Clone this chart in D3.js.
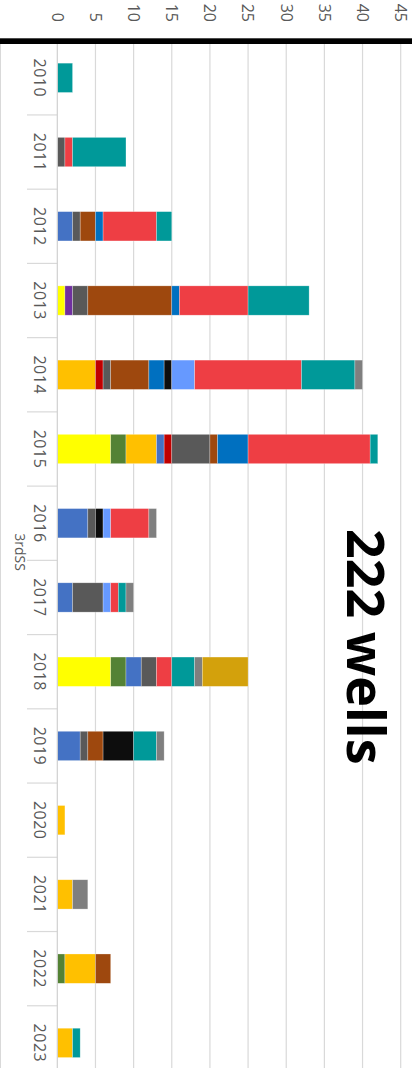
<!DOCTYPE html>
<html>
<head>
<meta charset="utf-8">
<script src="https://cdn.jsdelivr.net/npm/d3@7"></script>
<style>
  html, body { margin: 0; padding: 0; background: #fff; }
  svg { display: block; }
</style>
</head>
<body>
<script>
// Wells drilled per year, split by group (stacked from the base upward)
const years = ["2010","2011","2012","2013","2014","2015","2016","2017","2018","2019","2020","2021","2022","2023"];

const yellow    = [0,0,0,1,0,7,0,0,7,0,0,0,0,0];
const purple    = [0,0,0,1,0,0,0,0,0,0,0,0,0,0];
const green     = [0,0,0,0,0,2,0,0,2,0,0,0,1,0];
const gold      = [0,0,0,0,5,4,0,0,0,0,1,2,4,2];
const blue      = [0,0,2,0,0,1,4,2,2,3,0,0,0,0];
const darkRed   = [0,0,0,0,1,1,0,0,0,0,0,0,0,0];
const darkGray  = [0,1,1,2,1,5,1,4,2,1,0,0,0,0];
const brown     = [0,0,2,11,5,1,0,0,0,2,0,0,2,0];
const oceanBlue = [0,0,1,1,2,4,0,0,0,0,0,0,0,0];
const black     = [0,0,0,0,1,0,1,0,0,4,0,0,0,0];
const skyBlue   = [0,0,0,0,3,0,1,1,0,0,0,0,0,0];
const red       = [0,1,7,9,14,16,5,1,2,0,0,0,0,0];
const teal      = [2,7,2,8,7,1,0,1,3,3,0,0,0,1];
const gray      = [0,0,0,0,1,0,1,1,1,1,0,2,0,0];
const ochre     = [0,0,0,0,0,0,0,0,6,0,0,0,0,0];

const valueTicks = [0,5,10,15,20,25,30,35,40,45];
const categoryTitle = "3rdSS";
const headline = "222 wells";

const seriesList = [
  ["yellow", yellow, "#FFFF00"],
  ["purple", purple, "#7030A0"],
  ["green", green, "#548235"],
  ["gold", gold, "#FFC000"],
  ["blue", blue, "#4472C4"],
  ["darkRed", darkRed, "#C00000"],
  ["darkGray", darkGray, "#595959"],
  ["brown", brown, "#9E480E"],
  ["oceanBlue", oceanBlue, "#0070C0"],
  ["black", black, "#0D0D0D"],
  ["skyBlue", skyBlue, "#6699FF"],
  ["red", red, "#EE3E44"],
  ["teal", teal, "#009999"],
  ["gray", gray, "#7F7F7F"],
  ["ochre", ochre, "#D3A10C"]
];
const keys = seriesList.map(s => s[0]);
const colorOf = new Map(seriesList.map(s => [s[0], s[2]]));

const table = years.map((yr, i) => {
  const row = { year: yr };
  seriesList.forEach(([k, vals]) => { row[k] = vals[i]; });
  return row;
});

const W = 412, H = 1068;
const svg = d3.select("body").append("svg").attr("width", W).attr("height", H);

// The column chart is laid out with years running left to right,
// then turned a quarter-turn clockwise onto the page.
const g = svg.append("g").attr("transform", `translate(${W},0) rotate(90)`);

const plotStart = 40.7, plotEnd = 1080;
const x = d3.scaleBand().domain(years).range([plotStart, plotEnd])
  .paddingInner(0.605).paddingOuter(0.3025);
const y = d3.scaleLinear().domain([0, 45]).range([354.7, 11.3]);

const textColor = "#595959";
const font = "'Open Sans', 'DejaVu Sans', sans-serif";

// horizontal gridlines
g.append("g").selectAll("line").data(valueTicks.filter(t => t > 0)).join("line")
  .attr("x1", 44).attr("x2", plotEnd)
  .attr("y1", d => y(d)).attr("y2", d => y(d))
  .attr("stroke", "#D9D9D9").attr("stroke-width", 1.2);

// outer frame line of the category axis
g.append("line").attr("x1", 44).attr("x2", plotEnd)
  .attr("y1", 411.5).attr("y2", 411.5)
  .attr("stroke", "#D9D9D9").attr("stroke-width", 1);

// category boundary ticks
const step = x.step();
g.append("g").selectAll("line").data(d3.range(years.length + 1)).join("line")
  .attr("x1", i => plotStart + i * step).attr("x2", i => plotStart + i * step)
  .attr("y1", y(0)).attr("y2", 385)
  .attr("stroke", "#D9D9D9").attr("stroke-width", 1.2);

// stacked bars
const stacked = d3.stack().keys(keys)(table);
g.append("g").selectAll("g").data(stacked).join("g")
  .attr("fill", s => colorOf.get(s.key))
  .selectAll("rect").data(s => s.filter(d => d[1] - d[0] > 0)).join("rect")
  .attr("x", d => x(d.data.year))
  .attr("width", x.bandwidth())
  .attr("y", d => y(d[1]))
  .attr("height", d => y(d[0]) - y(d[1]))
  .attr("stroke", "#ffffff").attr("stroke-opacity", 0.45).attr("stroke-width", 0.6);

// category axis line
g.append("line").attr("x1", 44).attr("x2", plotEnd)
  .attr("y1", y(0)).attr("y2", y(0))
  .attr("stroke", "#D0D0D0").attr("stroke-width", 1.2);

// value axis labels
const yAxis = g.append("g").attr("transform", `translate(${plotStart},0)`)
  .call(d3.axisLeft(y).tickValues(valueTicks).tickSize(0).tickPadding(18.7));
yAxis.select(".domain").remove();
yAxis.selectAll("text").attr("fill", textColor)
  .style("font-family", font).style("font-size", "16px");

// year labels
const xAxis = g.append("g").attr("transform", `translate(0,${y(0)})`)
  .call(d3.axisBottom(x).tickSize(0).tickPadding(11.5));
xAxis.select(".domain").remove();
xAxis.selectAll("text").attr("fill", textColor)
  .style("font-family", font).style("font-size", "16px")
  .style("letter-spacing", "0.5px");

// thick rule along the value axis side
g.append("rect").attr("x", 38.3).attr("y", 0).attr("width", 5.7).attr("height", W)
  .attr("fill", "#000");

// category group title
g.append("text").attr("x", 552).attr("y", 392)
  .attr("text-anchor", "middle").attr("dominant-baseline", "central")
  .attr("fill", textColor)
  .style("font-family", font).style("font-size", "14px")
  .text(categoryTitle);

// headline
g.append("text").attr("x", 529).attr("y", 65)
  .attr("fill", "#000")
  .style("font-family", font).style("font-size", "52px").style("font-weight", "700")
  .text(headline);
</script>
</body>
</html>
